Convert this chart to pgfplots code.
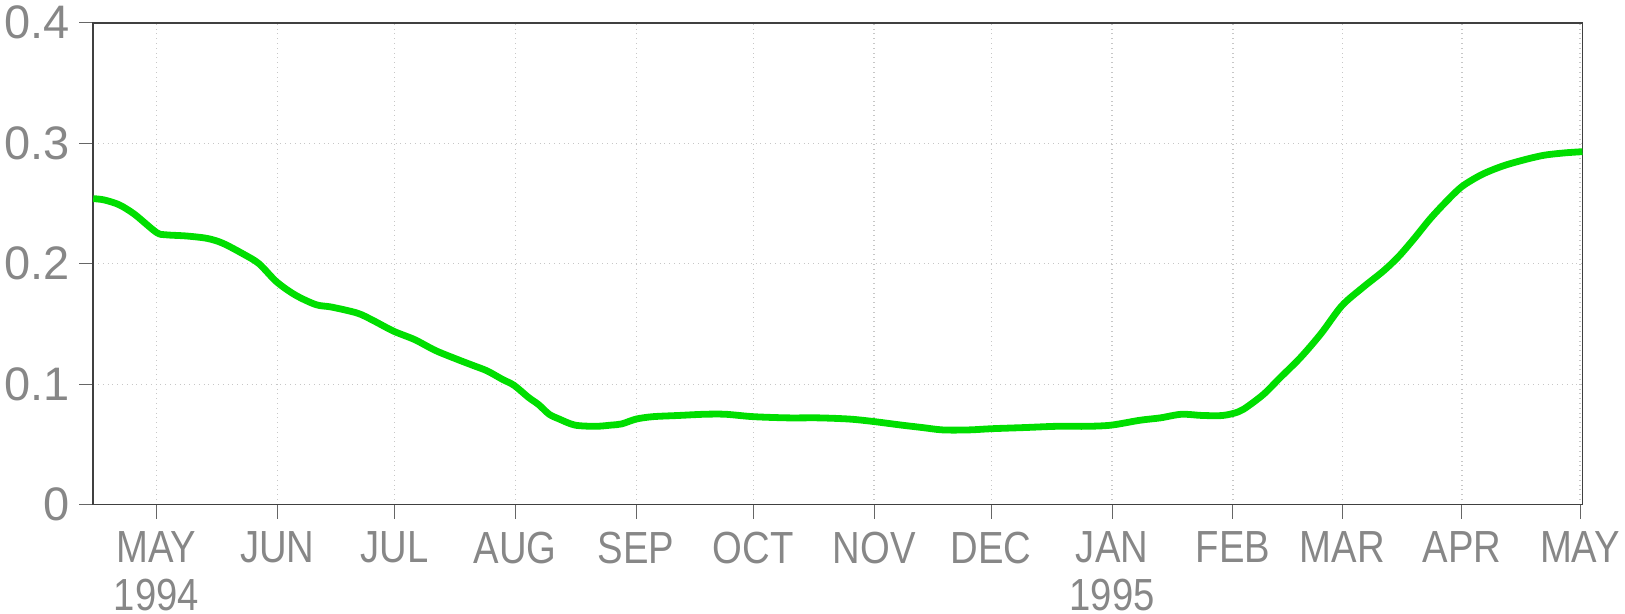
\documentclass[border=0pt]{standalone}
\usepackage{fontspec}
\setmainfont{Liberation Sans}[FakeStretch=0.85]
\newfontfamily\ynum{Liberation Sans}[FakeStretch=1.0]
\usepackage{pgfplots}
\pgfplotsset{compat=1.18}
\definecolor{lgreen}{RGB}{0,222,0}
\definecolor{txtgray}{RGB}{135,135,135}
\begin{document}
\begin{tikzpicture}
\useasboundingbox (0,0) rectangle (812.5pt,307pt);
\begin{axis}[
  at={(46.6pt,54.7pt)}, anchor=south west,
  scale only axis, width=744.6pt, height=240.9pt,
  xmin=-16.2, xmax=365.6, ymin=0, ymax=0.4,
  xtick={0,31,61,92,123,153,184,214,245,276,304,334.7,365},
  xticklabels={{MAY\\1994},JUN,JUL,AUG,SEP,OCT,NOV,DEC,{JAN\\1995},FEB,MAR,APR,MAY},
  ytick={0,0.1,0.2,0.3,0.4},
  yticklabels={0,0.1,0.2,0.3,0.4},
  xtick pos=bottom, ytick pos=left,
  tick align=outside, major tick length=7pt,
  tick style={color=black!60, line width=0.5pt},
  axis line style={color=black!75, line width=0.9pt},
  grid=major,
  major grid style={color=black!22, dotted, line width=0.6pt},
  xticklabel style={font=\fontsize{22.5}{23.8}\selectfont, text=txtgray, align=center, anchor=north, yshift=-3pt},
  yticklabel style={font=\ynum\fontsize{23.5}{24}\selectfont, text=txtgray, anchor=east, xshift=-1pt},
  clip=false,
]
\addplot[lgreen, line width=3.4pt, smooth] coordinates {
(-16.2,0.254) (-13.5,0.253) (-9.6,0.249) (-5.6,0.241) (0,0.226) (2.4,0.224)
(7.7,0.223) (13.0,0.221) (17.0,0.217) (22.3,0.208) (26.3,0.200) (30.8,0.185)
(35.6,0.174) (40.9,0.166) (44.9,0.164) (51.5,0.159) (55.5,0.153) (60.8,0.144)
(66.2,0.137) (71.5,0.128) (76.8,0.121) (80.8,0.116) (84.8,0.111) (88.7,0.104)
(91.7,0.099) (95.4,0.089) (98.0,0.083) (100.7,0.075) (103.3,0.071) (107.3,0.066)
(112.6,0.065) (116.6,0.066) (119.3,0.067) (123.0,0.071) (127.3,0.073) (133.9,0.074)
(140.5,0.075) (145.9,0.075) (153.0,0.073) (161.8,0.072) (169.8,0.072) (177.7,0.071)
(183.8,0.069) (191.0,0.066) (196.3,0.064) (201.6,0.062) (208.3,0.062) (214.1,0.063)
(222.9,0.064) (230.9,0.065) (238.8,0.065) (244.9,0.066) (252.1,0.070) (257.4,0.072)
(262.8,0.075) (268.1,0.074) (273.4,0.074) (277.4,0.077) (280.0,0.082) (284.0,0.092)
(288.0,0.105) (293.3,0.122) (298.6,0.142) (303.9,0.165) (309.2,0.180) (314.6,0.194)
(318.5,0.206) (322.5,0.221) (326.5,0.237) (330.5,0.251) (334.7,0.264) (339.8,0.274)
(345.1,0.281) (350.4,0.286) (355.7,0.290) (361.1,0.292) (365.6,0.293)
};
\end{axis}
\end{tikzpicture}
\end{document}
